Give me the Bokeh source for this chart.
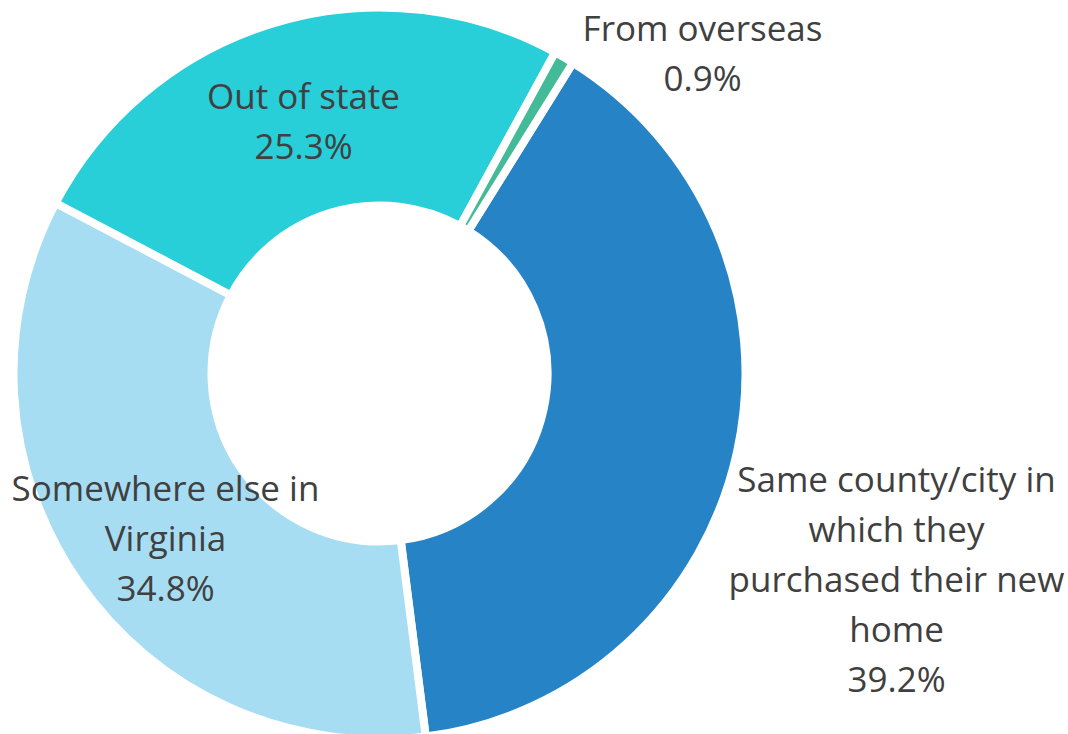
import numpy as np
from bokeh.plotting import figure
from bokeh.models import Range1d, ColumnDataSource
from bokeh.core.properties import value
from bokeh.embed import file_html
from bokeh.resources import INLINE

categories = ["Same county/city in which they purchased their new home",
              "Somewhere else in Virginia", "Out of state", "From overseas"]
shares = [39.2, 34.8, 25.3, 0.9]
colors = ["#2683C6", "#A6DDF3", "#28CED8", "#43BA98"]
label_lines = [
    ["Same county/city in", "which they", "purchased their new", "home", "39.2%"],
    ["Somewhere else in", "Virginia", "34.8%"],
    ["Out of state", "25.3%"],
    ["From overseas", "0.9%"],
]
# label anchor (image px of first line center)
label_pos = [(896, 478), (165, 487), (303, 95), (702, 27)]

W, H = 1068, 734
p = figure(width=W, height=H, output_backend="svg", toolbar_location=None,
           x_range=Range1d(0, W), y_range=Range1d(0, H),
           min_border=0, outline_line_color=None)
p.axis.visible = False
p.grid.visible = False
p.background_fill_color = "white"

cx, cy = 379, 734 - 373
start_cw = 31.9  # degrees clockwise from 12 o'clock
frac = np.array(shares) / np.sum(shares)
cum = np.concatenate([[0], np.cumsum(frac)]) * 360 + start_cw
starts = np.deg2rad(90 - cum[:-1])
ends = np.deg2rad(90 - cum[1:])

src = ColumnDataSource(dict(start=starts, end=ends, color=colors, cat=categories))
p.annular_wedge(x=cx, y=cy, inner_radius=168, outer_radius=366,
                start_angle="start", end_angle="end", direction="clock",
                fill_color="color", line_color="white", line_width=8, source=src)

xs, ys, ts = [], [], []
for lines, (lx, ly) in zip(label_lines, label_pos):
    for i, t in enumerate(lines):
        xs.append(lx)
        ys.append(734 - (ly + i * 50))
        ts.append(t)
p.text(x=xs, y=ys, text=ts, text_align="center", text_baseline="middle",
       text_font=value("Open Sans"), text_font_size="35px", text_color="#404040")

open("out.html", "w").write(file_html(p, INLINE))
